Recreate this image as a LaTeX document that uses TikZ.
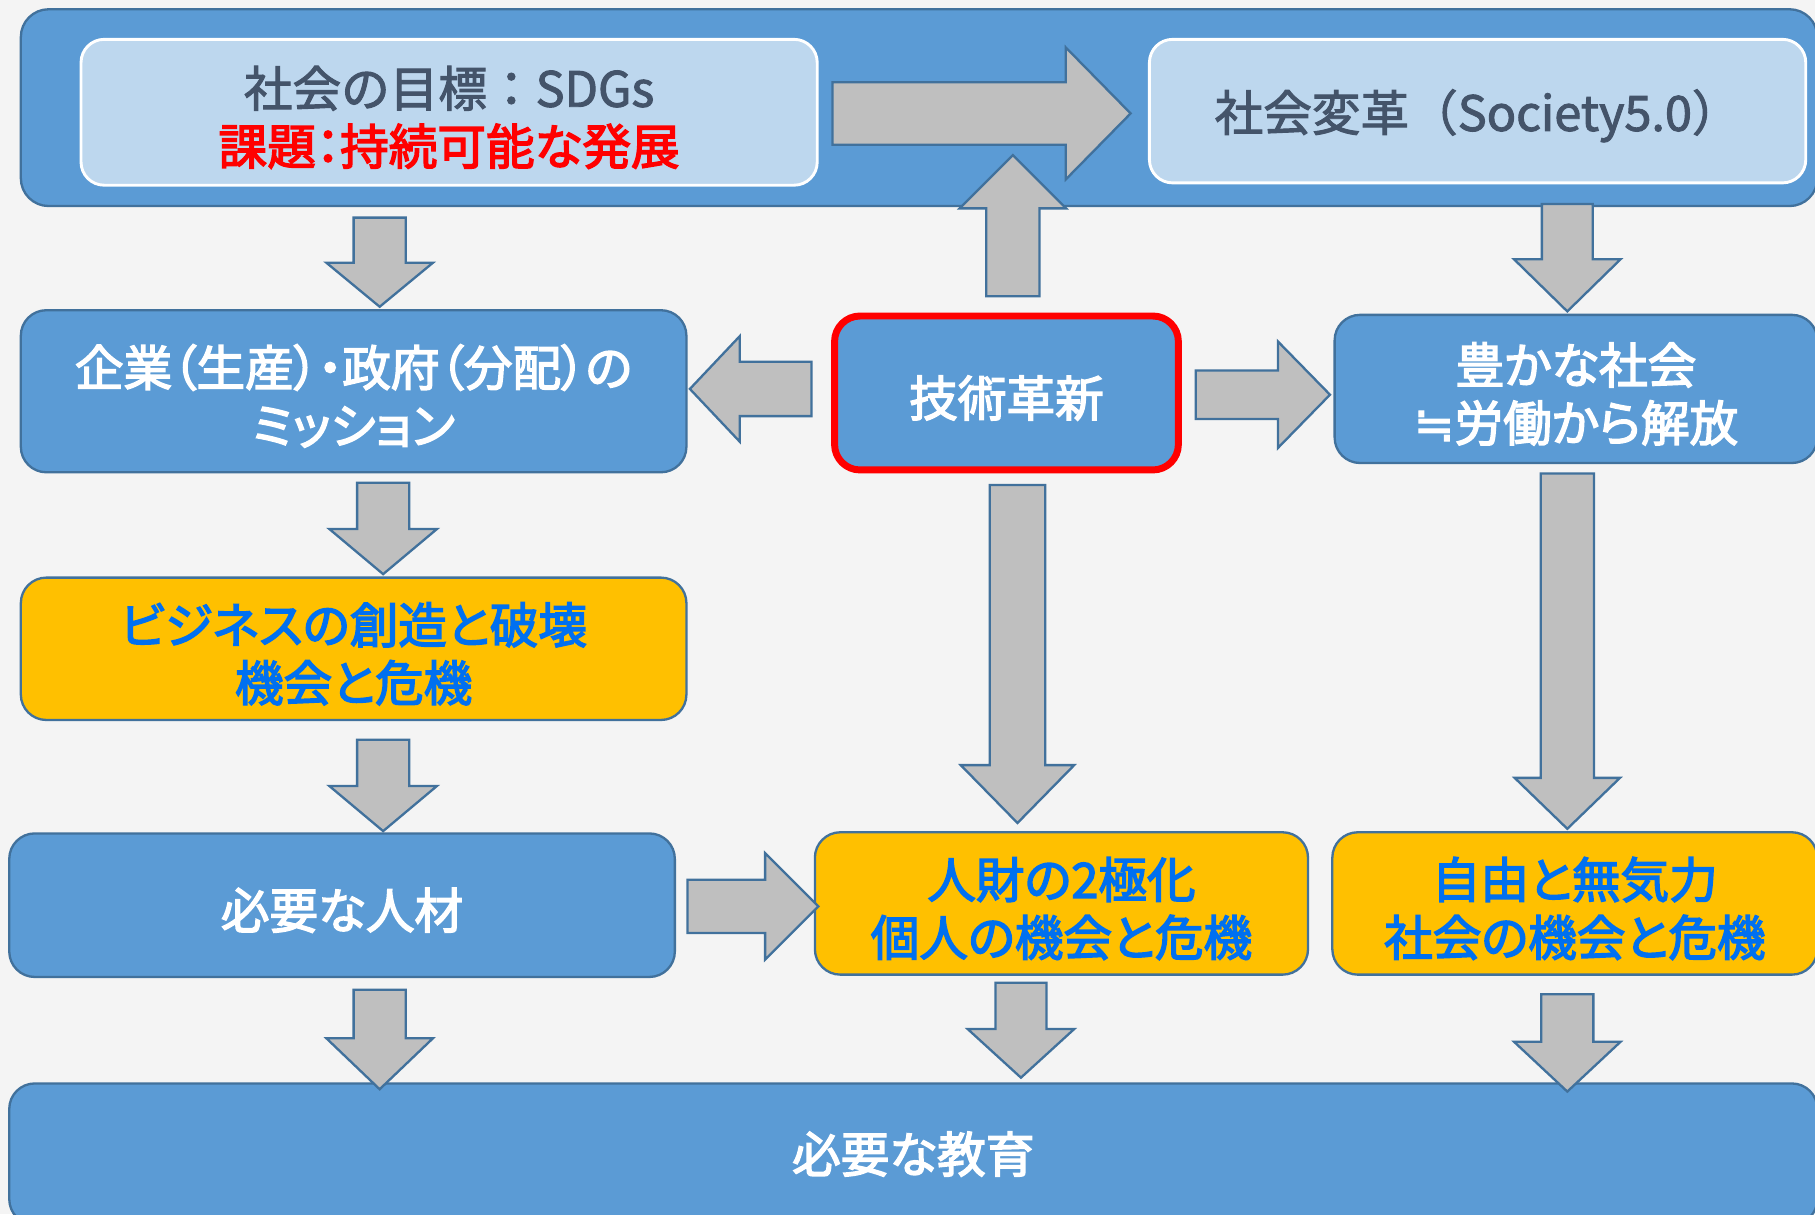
\documentclass[tikz,border=0pt]{standalone}
\usepackage{fontspec}
\setmainfont{Noto Sans CJK JP}[RawFeature={+palt}]
\newfontfamily\mainf{Noto Sans CJK JP}[RawFeature={+palt}, FakeBold=3]
\newfontfamily\mainnp{Noto Sans CJK JP}[FakeBold=2]
\newfontfamily\darkf{Noto Sans CJK JP}[RawFeature={+palt}, FakeBold=2]
\newfontfamily\symf{DejaVu Sans}[FakeBold=2]
\usetikzlibrary{calc}
\definecolor{bgc}{HTML}{F4F4F4}
\definecolor{bluef}{HTML}{5B9BD5}
\definecolor{bordc}{HTML}{41719C}
\definecolor{lightf}{HTML}{BDD7EE}
\definecolor{darktxt}{HTML}{44546A}
\definecolor{orangef}{HTML}{FFC000}
\definecolor{bluetxt}{HTML}{0070F0}
\definecolor{arrowf}{HTML}{BFBFBF}
\definecolor{redc}{HTML}{FF0000}
\newcommand{\blockarrow}[5]{%
  \coordinate (ba-s) at #1;
  \coordinate (ba-t) at #2;
  \coordinate (ba-h) at ($(ba-t)!#5!(ba-s)$);
  \draw[arrowshape] ($(ba-s)!#3!90:(ba-t)$) -- ($(ba-h)!#3!90:(ba-t)$) -- ($(ba-h)!#4!90:(ba-t)$) -- (ba-t)
    -- ($(ba-h)!#4!-90:(ba-t)$) -- ($(ba-h)!#3!-90:(ba-t)$) -- ($(ba-s)!#3!-90:(ba-t)$) -- cycle;
}
\newcommand{\tstrut}{\rule{0pt}{44pt}}
\begin{document}
\begin{tikzpicture}[x=1pt,y=-1pt,
  box/.style={rounded corners=22pt, draw=bordc, line width=2pt, inner sep=0pt, align=center,
    font=\mainf\fontsize{42}{50}\selectfont},
  bluebox/.style={box, fill=bluef, text=white},
  orangebox/.style={box, fill=orangef, text=bluetxt},
  lightbox/.style={box, fill=lightf, draw=white, line width=2.5pt, text=darktxt, rounded corners=20pt},
  arrowshape/.style={fill=arrowf, draw=bordc, line width=2pt, line join=miter}]
\useasboundingbox (0,0) rectangle (1568,1049);
\fill[bgc] (0,0) rectangle (1568,1049);

% top frame
\node[box, fill=bluef, minimum width=1552pt, minimum height=170pt, rounded corners=24pt] (frame) at (794,93) {};
\node[lightbox, minimum width=636pt, minimum height=126pt] (goal) at (388,97)
  {\tstrut\mainnp\fontsize{42}{50}\selectfont 社会の目標：SDGs\\{\color{redc}課題：持続可能な発展}};
\node[lightbox, minimum width=567pt, minimum height=124pt] (soc) at (1276.5,96)
  {\tstrut\mainnp\fontsize{42}{50}\selectfont 社会変革（Society5.0）};

% middle row
\node[bluebox, minimum width=575pt, minimum height=140pt] (kigyo) at (305.5,338)
  {\tstrut 企業（生産）・政府（分配）の\\ミッション};
\node[bluebox, draw=redc, line width=6pt, minimum width=297pt, minimum height=133pt] (gijutsu) at (869.5,339.5)
  {\tstrut 技術革新};
\node[bluebox, minimum width=417pt, minimum height=128pt] (yutaka) at (1361.5,336)
  {\tstrut 豊かな社会\\{\symf\fontsize{42}{50}\selectfont ≒}労働から解放};

\node[orangebox, minimum width=575pt, minimum height=123pt] (business) at (305.5,560.5)
  {\tstrut ビジネスの創造と破壊\\機会と危機};

\node[bluebox, minimum width=575pt, minimum height=124pt] (jinzai) at (295.5,782)
  {\tstrut 必要な人材};
\node[orangebox, minimum width=426pt, minimum height=123pt] (jinzai2) at (917,780.5)
  {\tstrut 人財の2極化\\個人の機会と危機};
\node[orangebox, minimum width=419pt, minimum height=123pt] (jiyu) at (1360.5,780.5)
  {\tstrut 自由と無気力\\社会の機会と危機};

\node[bluebox, minimum width=1562pt, minimum height=122pt] (kyoiku) at (789,997)
  {必要な教育};

% arrows
\blockarrow{($(goal.east)+(12,1)$)}{($(soc.west)+(-15,2)$)}{27pt}{57pt}{56pt}
\blockarrow{($(gijutsu.north)+(5.5,-14)$)}{($(frame.south)+(81,-45)$)}{23pt}{46pt}{46pt}
\blockarrow{($(frame.south)+(-466,9)$)}{($(kigyo.north)+(22.5,-2)$)}{22.5pt}{46pt}{38pt}
\blockarrow{($(soc.south)+(77.5,17)$)}{($(yutaka.north)+(-7.5,-2)$)}{22pt}{46pt}{45pt}
\blockarrow{($(gijutsu.west)+(-17,-3.5)$)}{($(kigyo.east)+(2,-2)$)}{23.5pt}{45.5pt}{43pt}
\blockarrow{($(gijutsu.east)+(12,1.5)$)}{($(yutaka.west)+(-3,5)$)}{21pt}{46pt}{45pt}
\blockarrow{($(kigyo.south)+(25.5,8)$)}{($(business.north)+(25.5,-2)$)}{22.5pt}{46.5pt}{39pt}
\blockarrow{($(business.south)+(25.5,16)$)}{($(jinzai.north)+(35.5,-1)$)}{22.5pt}{46.5pt}{39pt}
\blockarrow{($(gijutsu.south)+(9.5,10)$)}{($(jinzai2.north)+(-38,-7)$)}{24pt}{49pt}{50pt}
\blockarrow{($(yutaka.south)+(-7.5,8)$)}{($(jiyu.north)+(-6.5,-2)$)}{23pt}{45.5pt}{44pt}
\blockarrow{($(jinzai.east)+(10,1)$)}{($(jinzai2.west)+(4,2.5)$)}{23pt}{46pt}{46pt}
\blockarrow{($(jinzai.south)+(32.5,10)$)}{($(kyoiku.north)+(-461,6)$)}{22.5pt}{46pt}{44pt}
\blockarrow{($(jinzai2.south)+(-35,6)$)}{($(kyoiku.north)+(93,-4)$)}{22pt}{46pt}{42pt}
\blockarrow{($(jiyu.south)+(-6.5,16)$)}{($(kyoiku.north)+(565,8)$)}{22.5pt}{46pt}{43pt}
\end{tikzpicture}
\end{document}
